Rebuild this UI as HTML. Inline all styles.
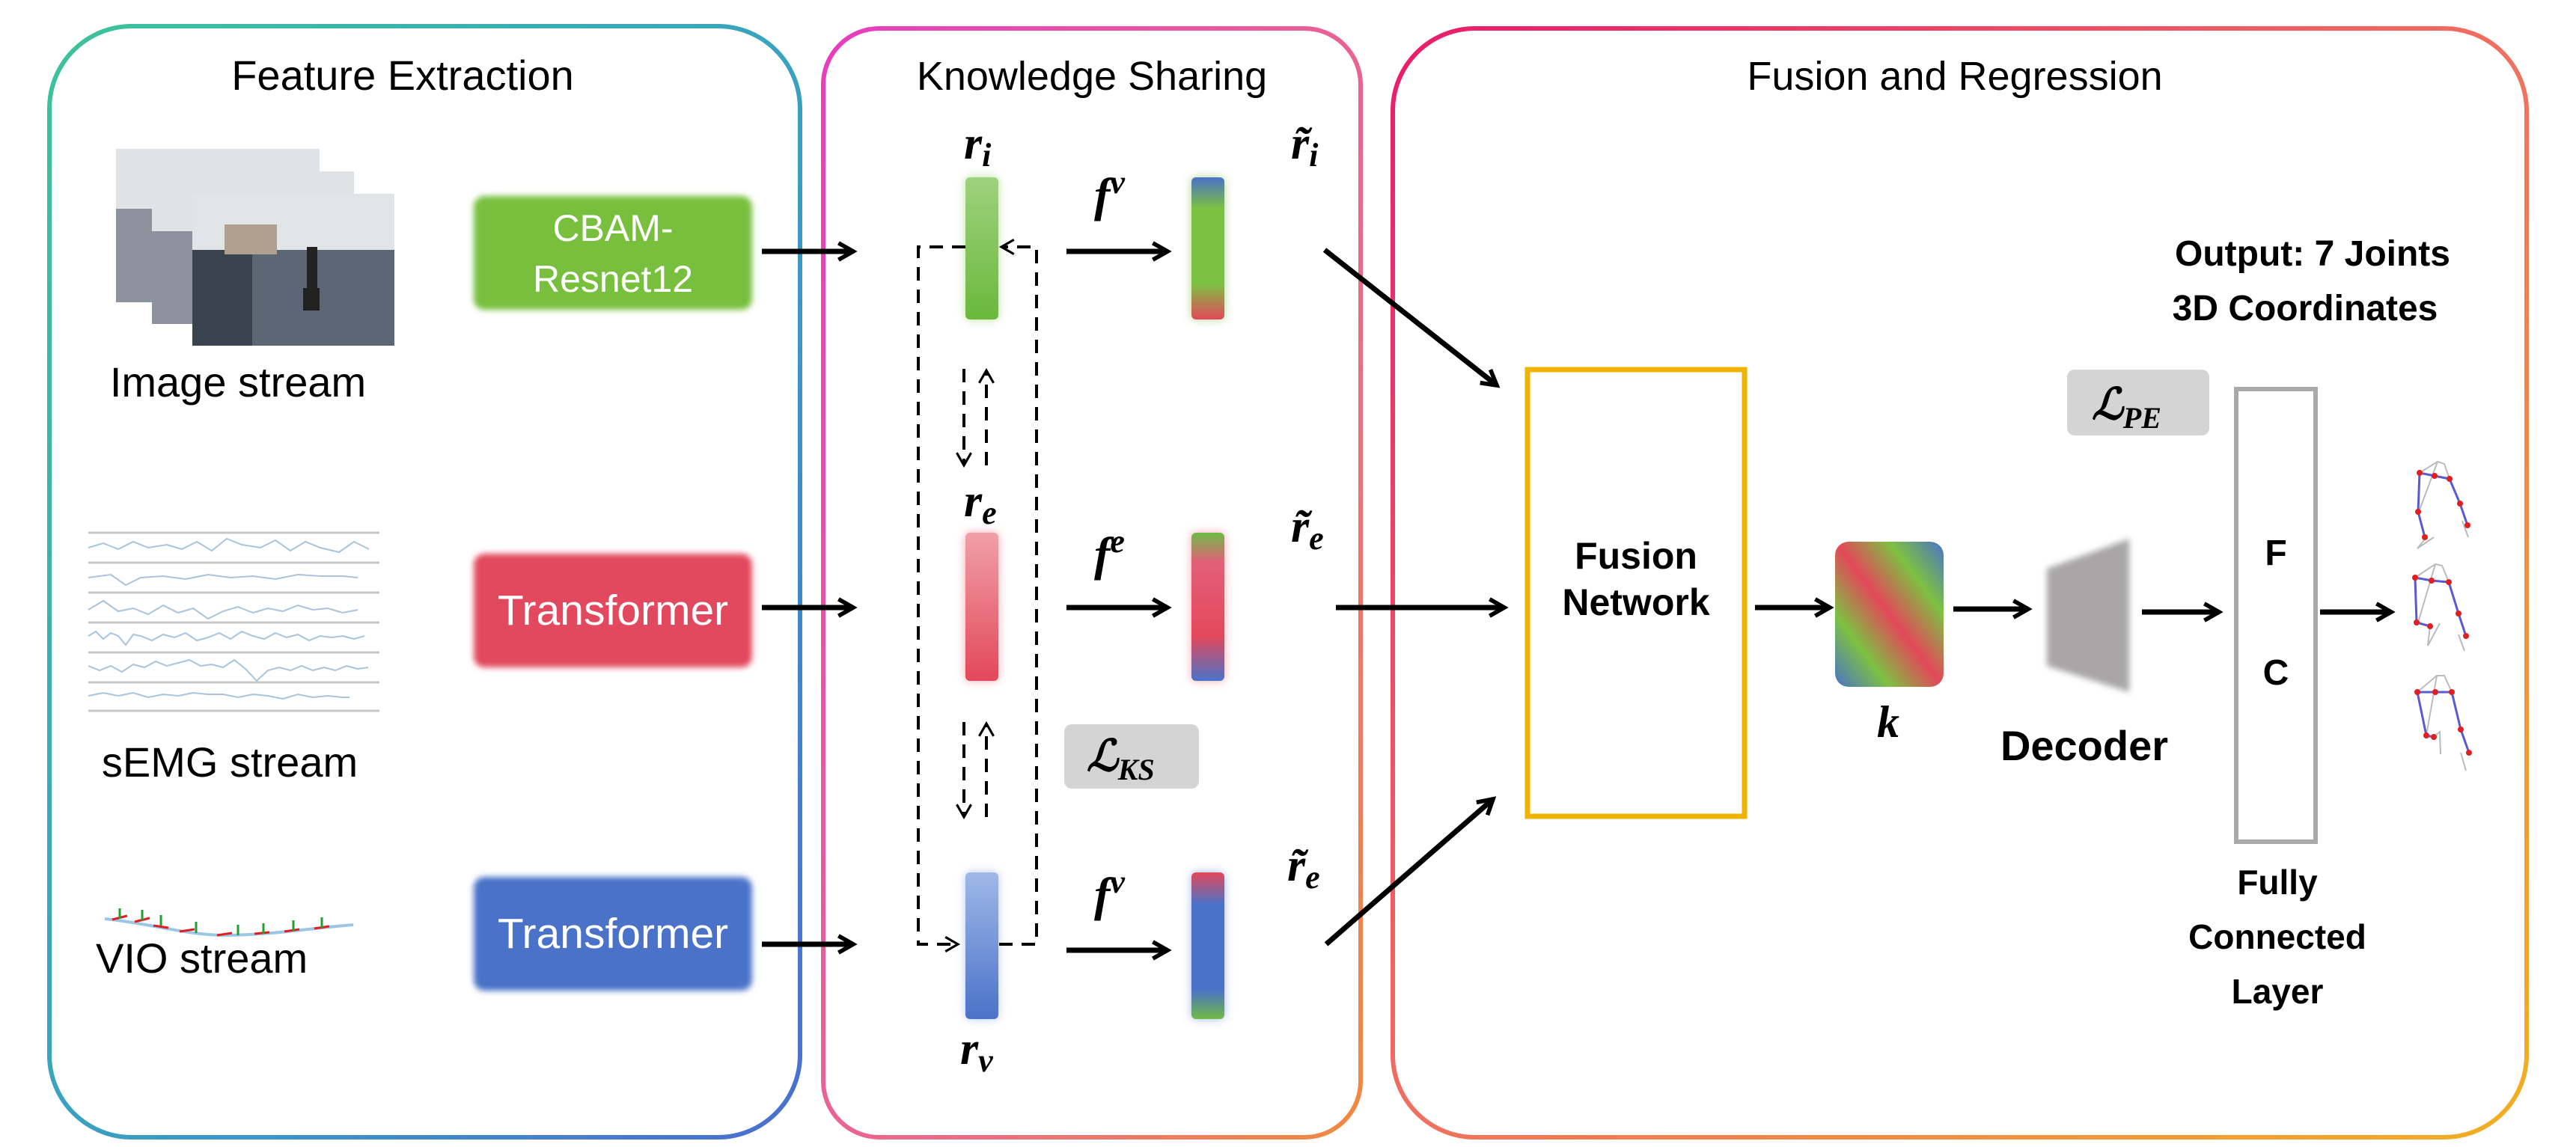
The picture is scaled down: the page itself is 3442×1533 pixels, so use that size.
<!DOCTYPE html>
<html><head><meta charset="utf-8"><style>
html,body{margin:0;padding:0;background:#fff}
svg{display:block}
.t{font-family:"Liberation Sans",sans-serif}
.m{font-family:"Liberation Serif",serif;font-weight:bold;font-style:italic}
</style></head><body>
<svg width="3442" height="1533" viewBox="0 0 3442 1533" xmlns="http://www.w3.org/2000/svg">
<defs>
<linearGradient id="g1" x1="0" y1="0" x2="1" y2="1"><stop offset="0" stop-color="#3cc39a"/><stop offset="0.5" stop-color="#3aa2c0"/><stop offset="1" stop-color="#4a6fd0"/></linearGradient>
<linearGradient id="g2" x1="0" y1="0" x2="1" y2="1"><stop offset="0" stop-color="#e83cc0"/><stop offset="0.6" stop-color="#ea6a8a"/><stop offset="1" stop-color="#f08a40"/></linearGradient>
<linearGradient id="g3" x1="0" y1="0" x2="1" y2="1"><stop offset="0" stop-color="#ea1a6a"/><stop offset="0.5" stop-color="#f07060"/><stop offset="1" stop-color="#f0b020"/></linearGradient>
<linearGradient id="bi" x1="0" y1="0" x2="0" y2="1"><stop offset="0" stop-color="#4a72c8"/><stop offset="0.22" stop-color="#7dc142"/><stop offset="0.75" stop-color="#7dc142"/><stop offset="1" stop-color="#e3485a"/></linearGradient>
<linearGradient id="be" x1="0" y1="0" x2="0" y2="1"><stop offset="0" stop-color="#6fba45"/><stop offset="0.2" stop-color="#e3607a"/><stop offset="0.7" stop-color="#e3485a"/><stop offset="1" stop-color="#4a72c8"/></linearGradient>
<linearGradient id="bv" x1="0" y1="0" x2="0" y2="1"><stop offset="0" stop-color="#e3485a"/><stop offset="0.22" stop-color="#4a72c8"/><stop offset="0.8" stop-color="#4a72c8"/><stop offset="1" stop-color="#6fba45"/></linearGradient>
<linearGradient id="kg" x1="1" y1="0" x2="0" y2="1"><stop offset="0" stop-color="#4a72c8"/><stop offset="0.25" stop-color="#7dc142"/><stop offset="0.5" stop-color="#e3485a"/><stop offset="0.75" stop-color="#7dc142"/><stop offset="1" stop-color="#4a72c8"/></linearGradient>
<linearGradient id="ri" x1="0" y1="0" x2="0" y2="1"><stop offset="0" stop-color="#9ed27e"/><stop offset="1" stop-color="#6ab83c"/></linearGradient>
<linearGradient id="re" x1="0" y1="0" x2="0" y2="1"><stop offset="0" stop-color="#f0a0a8"/><stop offset="1" stop-color="#e3485a"/></linearGradient>
<linearGradient id="rv" x1="0" y1="0" x2="0" y2="1"><stop offset="0" stop-color="#a0b8e8"/><stop offset="1" stop-color="#4a72c8"/></linearGradient>
<filter id="bl" x="-20%" y="-20%" width="140%" height="140%"><feGaussianBlur stdDeviation="4"/></filter>
<filter id="bl2" x="-50%" y="-20%" width="200%" height="140%"><feGaussianBlur stdDeviation="6"/></filter>
<marker id="ah" viewBox="0 0 10 10" refX="8" refY="5" markerWidth="4" markerHeight="4" orient="auto"><path d="M1,1 L8,5 L1,9" fill="none" stroke="#000" stroke-width="2"/></marker>
<marker id="ad" viewBox="0 0 10 10" refX="8" refY="5" markerWidth="6" markerHeight="6" orient="auto"><path d="M1,1 L8,5 L1,9" fill="none" stroke="#000" stroke-width="1.3"/></marker>
</defs>

<rect x="66" y="35" width="1003" height="1485" rx="110" fill="none" stroke="url(#g1)" stroke-width="6"/>
<rect x="1100" y="38" width="718" height="1482" rx="75" fill="none" stroke="url(#g2)" stroke-width="6"/>
<rect x="1861" y="38" width="1515" height="1482" rx="110" fill="none" stroke="url(#g3)" stroke-width="6"/>
<text x="538" y="120" class="t" font-size="56" text-anchor="middle">Feature Extraction</text>
<text x="1459" y="120" class="t" font-size="54" text-anchor="middle">Knowledge Sharing</text>
<text x="2612" y="120" class="t" font-size="54" text-anchor="middle">Fusion and Regression</text>

<g>
<rect x="155" y="199" width="272" height="205" fill="#8c939c"/><rect x="155" y="199" width="272" height="80" fill="#dfe3e6"/>
<rect x="203" y="229" width="270" height="204" fill="#8c939c"/><rect x="203" y="229" width="270" height="80" fill="#dfe3e6"/>
<rect x="257" y="259" width="270" height="203" fill="#5d6675"/><rect x="257" y="259" width="270" height="75" fill="#e2e5e8"/>
<rect x="257" y="334" width="80" height="128" fill="#3a4250"/><rect x="300" y="300" width="70" height="40" fill="#b0a090"/>
<rect x="410" y="330" width="14" height="60" fill="#222"/><rect x="405" y="385" width="22" height="30" fill="#222"/>
</g>
<text x="318" y="530" class="t" font-size="56" text-anchor="middle">Image stream</text>

<g stroke="#c8c8c8" stroke-width="3">
<line x1="118" y1="712" x2="507" y2="712"/><line x1="118" y1="752" x2="507" y2="752"/><line x1="118" y1="792" x2="507" y2="792"/><line x1="118" y1="832" x2="507" y2="832"/><line x1="118" y1="872" x2="507" y2="872"/><line x1="118" y1="912" x2="507" y2="912"/><line x1="118" y1="950" x2="507" y2="950"/>
</g>
<g fill="none" stroke="#a8c4dc" stroke-width="2">
<path d="M118,732 l20,-6 20,8 20,-10 20,8 25,-4 20,6 20,-10 20,12 20,-16 20,8 25,4 20,-10 20,14 20,-12 20,8 25,6 20,-14 20,10"/>
<path d="M118,772 l30,-4 20,14 20,-10 30,-2 30,4 30,-6 30,4 30,-2 30,4 30,-6 30,2 30,0 20,2"/>
<path d="M118,815 l20,-12 20,14 20,-4 20,8 20,-12 20,10 20,-6 20,14 20,-10 20,-6 20,8 20,-6 20,4 20,-8 20,6 20,-2 20,6 20,-4"/>
<path d="M118,850 l10,-6 10,10 10,-8 10,4 10,12 10,-14 10,2 15,6 15,-8 15,4 15,-6 15,10 15,-4 15,-6 15,8 15,-10 15,6 15,4 15,-8 15,6 15,-4 15,8 15,-6 15,2 15,-2 15,4 14,-4"/>
<path d="M118,890 l15,6 15,-6 15,8 15,-10 15,4 15,-8 15,6 15,-4 15,-4 15,8 15,-2 15,4 15,-10 15,12 15,16 15,-14 15,-4 15,4 15,-6 15,6 15,-4 15,4 15,-6 15,4 14,-2"/>
<path d="M118,930 l20,-4 20,4 20,-4 20,6 20,-4 20,2 20,-4 20,2 20,0 20,4 20,-4 20,2 20,4 20,-6 20,4 20,-2 20,2 9,0"/>
</g>
<text x="307" y="1038" class="t" font-size="56" text-anchor="middle">sEMG stream</text>

<g transform="translate(0,-18)">
<path d="M140,1246 C200,1252 250,1268 300,1268 C360,1268 420,1258 472,1254" fill="none" stroke="#9bc6e6" stroke-width="4"/>
<g stroke="#e02020" stroke-width="3">
<line x1="150" y1="1247" x2="170" y2="1242"/><line x1="180" y1="1250" x2="200" y2="1245"/><line x1="205" y1="1255" x2="225" y2="1258"/><line x1="240" y1="1263" x2="260" y2="1260"/><line x1="290" y1="1268" x2="310" y2="1265"/><line x1="340" y1="1266" x2="360" y2="1264"/><line x1="380" y1="1263" x2="400" y2="1260"/><line x1="420" y1="1259" x2="440" y2="1256"/>
</g>
<g stroke="#20a030" stroke-width="3">
<line x1="160" y1="1246" x2="160" y2="1232"/><line x1="190" y1="1248" x2="190" y2="1234"/><line x1="215" y1="1255" x2="215" y2="1241"/><line x1="262" y1="1265" x2="262" y2="1250"/><line x1="318" y1="1268" x2="318" y2="1254"/><line x1="352" y1="1266" x2="352" y2="1252"/><line x1="392" y1="1262" x2="392" y2="1248"/><line x1="430" y1="1258" x2="430" y2="1244"/>
</g>
</g>
<text x="128" y="1300" class="t" font-size="56">VIO stream</text>

<rect x="633" y="262" width="372" height="152" rx="14" fill="#77bf3e" filter="url(#bl)"/>
<text x="819" y="322" class="t" font-size="50" fill="#fff" text-anchor="middle">CBAM-</text>
<text x="819" y="390" class="t" font-size="50" fill="#fff" text-anchor="middle">Resnet12</text>
<rect x="633" y="740" width="372" height="152" rx="14" fill="#e24a5e" filter="url(#bl)"/>
<text x="819" y="835" class="t" font-size="57" fill="#fff" text-anchor="middle">Transformer</text>
<rect x="633" y="1172" width="372" height="152" rx="14" fill="#4a72c8" filter="url(#bl)"/>
<text x="819" y="1267" class="t" font-size="57" fill="#fff" text-anchor="middle">Transformer</text>

<g stroke="#000" stroke-width="7" fill="none" marker-end="url(#ah)">
<line x1="1018" y1="336" x2="1140" y2="336"/>
<line x1="1018" y1="812" x2="1140" y2="812"/>
<line x1="1018" y1="1262" x2="1140" y2="1262"/>
<line x1="1425" y1="336" x2="1560" y2="336"/>
<line x1="1425" y1="812" x2="1560" y2="812"/>
<line x1="1425" y1="1270" x2="1560" y2="1270"/>
<line x1="1770" y1="334" x2="2000" y2="515"/>
<line x1="1785" y1="812" x2="2010" y2="812"/>
<line x1="1772" y1="1262" x2="1995" y2="1068"/>
<line x1="2345" y1="812" x2="2445" y2="812"/>
<line x1="2610" y1="814" x2="2710" y2="814"/>
<line x1="2862" y1="818" x2="2965" y2="818"/>
<line x1="3100" y1="818" x2="3195" y2="818"/>
</g>

<rect x="1290" y="237" width="44" height="190" rx="6" fill="#8fd060" filter="url(#bl2)" opacity="0.6"/>
<rect x="1290" y="237" width="44" height="190" rx="6" fill="url(#ri)"/>
<rect x="1290" y="712" width="44" height="198" rx="6" fill="#e3485a" filter="url(#bl2)" opacity="0.5"/>
<rect x="1290" y="712" width="44" height="198" rx="6" fill="url(#re)"/>
<rect x="1290" y="1166" width="44" height="196" rx="6" fill="#6f90d8" filter="url(#bl2)" opacity="0.5"/>
<rect x="1290" y="1166" width="44" height="196" rx="6" fill="url(#rv)"/>

<rect x="1592" y="237" width="44" height="190" rx="6" fill="#7dc142" filter="url(#bl2)" opacity="0.6"/>
<rect x="1592" y="237" width="44" height="190" rx="6" fill="url(#bi)"/>
<rect x="1592" y="712" width="44" height="198" rx="6" fill="#e3485a" filter="url(#bl2)" opacity="0.5"/>
<rect x="1592" y="712" width="44" height="198" rx="6" fill="url(#be)"/>
<rect x="1592" y="1166" width="44" height="196" rx="6" fill="#4a72c8" filter="url(#bl2)" opacity="0.5"/>
<rect x="1592" y="1166" width="44" height="196" rx="6" fill="url(#bv)"/>

<g stroke="#000" stroke-width="4" fill="none" stroke-dasharray="18,12">
<polyline points="1290,330 1227,330 1227,1262 1280,1262" marker-end="url(#ad)"/>
<polyline points="1335,1262 1385,1262 1385,330 1338,330" marker-end="url(#ad)"/>
<line x1="1288" y1="493" x2="1288" y2="622" marker-end="url(#ad)"/>
<line x1="1318" y1="622" x2="1318" y2="495" marker-end="url(#ad)"/>
<line x1="1288" y1="965" x2="1288" y2="1092" marker-end="url(#ad)"/>
<line x1="1318" y1="1092" x2="1318" y2="967" marker-end="url(#ad)"/>
</g>
<rect x="1422" y="968" width="180" height="86" rx="10" fill="#d4d4d4"/>
<text x="1452" y="1030" class="m" font-size="58">ℒ<tspan font-size="40" dy="12">KS</tspan></text>

<text x="1288" y="212" class="m" font-size="62">r<tspan font-size="44" dy="10">i</tspan></text>
<text x="1288" y="690" class="m" font-size="62">r<tspan font-size="44" dy="10">e</tspan></text>
<text x="1283" y="1422" class="m" font-size="62">r<tspan font-size="44" dy="10">v</tspan></text>
<text x="1462" y="282" class="m" font-size="64">f<tspan font-size="44" dy="-24">v</tspan></text>
<text x="1462" y="762" class="m" font-size="64">f<tspan font-size="44" dy="-24">e</tspan></text>
<text x="1462" y="1217" class="m" font-size="64">f<tspan font-size="44" dy="-24">v</tspan></text>
<text x="1725" y="212" class="m" font-size="62">r̃<tspan font-size="44" dy="10">i</tspan></text>
<text x="1725" y="724" class="m" font-size="62">r̃<tspan font-size="44" dy="10">e</tspan></text>
<text x="1720" y="1177" class="m" font-size="62">r̃<tspan font-size="44" dy="10">e</tspan></text>

<rect x="2041" y="494" width="290" height="597" fill="none" stroke="#f0b400" stroke-width="7"/>
<text x="2186" y="760" class="t" font-size="50" font-weight="bold" text-anchor="middle">Fusion</text>
<text x="2186" y="822" class="t" font-size="50" font-weight="bold" text-anchor="middle">Network</text>
<rect x="2452" y="724" width="145" height="194" rx="18" fill="url(#kg)"/>
<text x="2508" y="985" class="m" font-size="60">k</text>
<path d="M2735,760 L2845,720 L2845,925 L2735,890 Z" fill="#a8a6a6" filter="url(#bl)"/>
<text x="2785" y="1016" class="t" font-size="56" font-weight="bold" text-anchor="middle">Decoder</text>
<rect x="2988" y="520" width="106" height="605" fill="none" stroke="#aaa" stroke-width="6"/>
<text x="3041" y="755" class="t" font-size="48" font-weight="bold" text-anchor="middle">F</text>
<text x="3041" y="915" class="t" font-size="48" font-weight="bold" text-anchor="middle">C</text>
<rect x="2762" y="494" width="190" height="88" rx="10" fill="#d4d4d4"/>
<text x="2795" y="560" class="m" font-size="58">ℒ<tspan font-size="40" dy="12">PE</tspan></text>
<text x="3090" y="355" class="t" font-size="48" font-weight="bold" text-anchor="middle">Output: 7 Joints</text>
<text x="3080" y="428" class="t" font-size="48" font-weight="bold" text-anchor="middle">3D Coordinates</text>
<text x="3043" y="1195" class="t" font-size="46" font-weight="bold" text-anchor="middle">Fully</text>
<text x="3043" y="1268" class="t" font-size="46" font-weight="bold" text-anchor="middle">Connected</text>
<text x="3043" y="1341" class="t" font-size="46" font-weight="bold" text-anchor="middle">Layer</text>

<g fill="none" stroke-width="2">
<g stroke="#bbb"><path d="M3233,632 L3257,617 L3266,620 L3273,640 M3257,617 L3232,684 M3242,718 L3230,733 L3252,718 M3290,696 L3298,718"/></g>
<g stroke="#5a5ad0" stroke-width="3"><path d="M3233,632 L3253,636 L3273,640 L3287,673 L3297,702 M3233,632 L3231,684 L3240,718"/></g>
<g stroke="#bbb"><path d="M3227,772 L3254,754 L3263,756 L3272,778 M3254,754 L3231,832 M3247,837 L3244,863 L3260,833 M3285,848 L3293,870"/></g>
<g stroke="#5a5ad0" stroke-width="3"><path d="M3227,772 L3249,776 L3272,778 L3285,820 L3295,850 M3227,772 L3229,832 L3247,837"/></g>
<g stroke="#bbb"><path d="M3230,925 L3256,903 L3266,903 L3276,925 M3256,903 L3242,983 M3252,985 L3260,978 L3261,1008 M3288,1006 L3295,1030"/></g>
<g stroke="#5a5ad0" stroke-width="3"><path d="M3230,925 L3254,925 L3276,925 L3288,975 L3299,1006 M3230,925 L3242,983 L3252,985"/></g>
<g fill="#e02020"><circle cx="3233" cy="632" r="4"/><circle cx="3253" cy="636" r="4"/><circle cx="3273" cy="640" r="4"/><circle cx="3287" cy="673" r="4"/><circle cx="3297" cy="702" r="4"/><circle cx="3231" cy="684" r="4"/><circle cx="3240" cy="718" r="4"/>
<circle cx="3227" cy="772" r="4"/><circle cx="3249" cy="776" r="4"/><circle cx="3272" cy="778" r="4"/><circle cx="3285" cy="820" r="4"/><circle cx="3295" cy="850" r="4"/><circle cx="3229" cy="832" r="4"/><circle cx="3247" cy="837" r="4"/>
<circle cx="3230" cy="925" r="4"/><circle cx="3254" cy="925" r="4"/><circle cx="3276" cy="925" r="4"/><circle cx="3288" cy="975" r="4"/><circle cx="3299" cy="1006" r="4"/><circle cx="3242" cy="983" r="4"/><circle cx="3252" cy="985" r="4"/></g>
</g>
</svg>
</body></html>
